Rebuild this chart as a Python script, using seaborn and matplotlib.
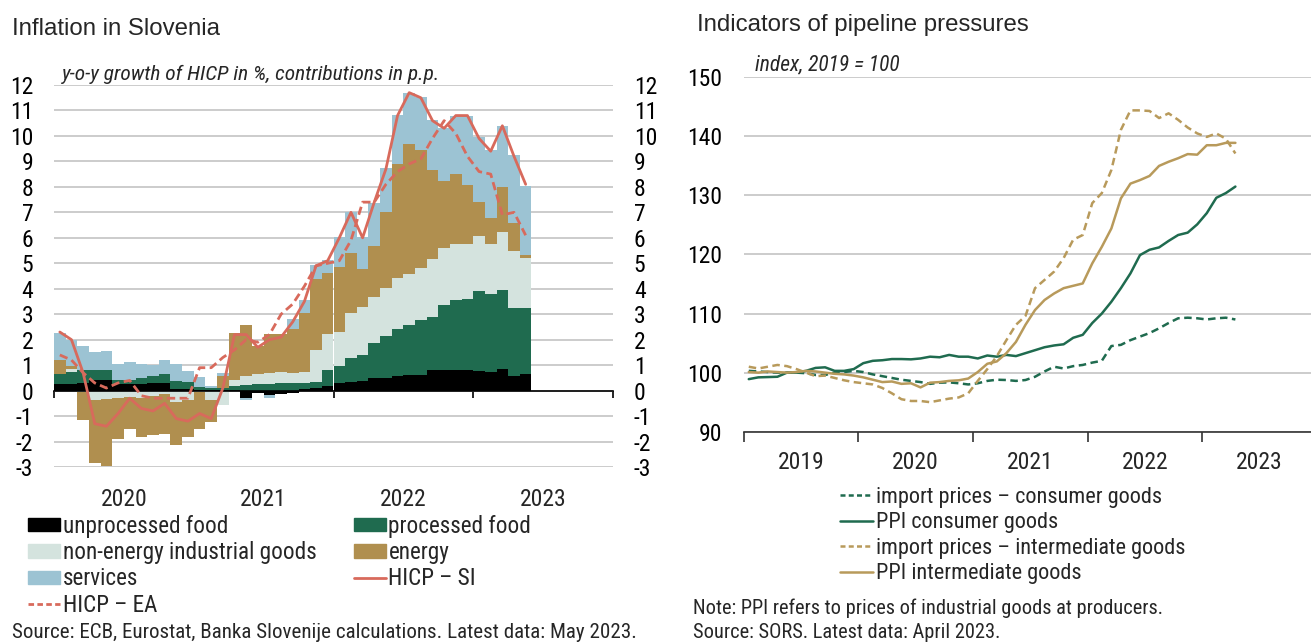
import numpy as np
import matplotlib
matplotlib.use("Agg")
import matplotlib.pyplot as plt
import seaborn as sns
from matplotlib.patches import Patch
from matplotlib.lines import Line2D

sns.set_theme(style="white")
NARROW = ["Roboto Condensed", "Noto Sans Condensed", "Liberation Sans", "DejaVu Sans"]
plt.rcParams["font.family"] = NARROW
plt.rcParams["axes.unicode_minus"] = False

# ----------------------------------------------------------------------
# DATA - left panel: monthly, Jan 2020 .. May 2023 (contributions in p.p.)
# ----------------------------------------------------------------------
unprocessed_food = [0.24, 0.27, 0.30, 0.41, 0.41, 0.25, 0.24, 0.27, 0.30, 0.30, 0.08, 0.08,
                    0.03, 0.02, 0.02, 0.02, -0.31, -0.10, -0.16, -0.14, -0.08, 0.05, 0.10, 0.20,
                    0.28, 0.33, 0.38, 0.50, 0.50, 0.58, 0.60, 0.62, 0.79, 0.80, 0.80, 0.80,
                    0.77, 0.72, 0.85, 0.59, 0.65]
processed_food = [0.40, 0.46, 0.50, 0.41, 0.39, 0.16, 0.19, 0.24, 0.26, 0.34, 0.30, 0.25,
                  0.13, 0.10, 0.08, 0.15, 0.21, 0.27, 0.27, 0.30, 0.30, 0.25, 0.23, 0.61,
                  0.67, 0.94, 1.02, 1.36, 1.65, 1.85, 1.98, 2.14, 2.10, 2.56, 2.76, 2.79,
                  3.16, 3.08, 3.10, 2.67, 2.58]
neig = [0.00, 0.13, -0.05, -0.38, -0.34, -0.29, -0.25, -0.31, -0.20, -0.15, -0.45, -0.37,
        -0.05, -0.35, -0.58, 0.23, 0.37, 0.37, 0.42, 0.43, 0.39, 0.45, 1.27, 1.40,
        1.34, 1.77, 1.87, 1.83, 1.87, 1.98, 1.99, 2.04, 2.29, 2.23, 2.18, 2.16,
        2.13, 1.95, 2.28, 2.22, 1.99]
energy = [0.58, 0.11, -1.10, -2.48, -2.63, -1.62, -1.24, -1.51, -1.55, -1.54, -1.67, -1.44,
          -1.44, -0.88, 0.46, 1.86, 1.98, 1.11, 1.55, 1.51, 1.74, 2.30, 2.78, 2.39,
          2.57, 2.38, 1.51, 2.00, 2.98, 4.48, 5.13, 4.65, 3.48, 2.65, 2.77, 2.33,
          1.36, 1.04, 1.78, 1.09, 0.11]
services = [1.05, 1.00, 0.95, 0.70, 0.76, 0.65, 0.69, 0.55, 0.46, 0.55, 0.65, 0.42,
            0.38, 0.05, 0.15, 0.00, -0.07, 0.00, -0.13, 0.00, 0.39, 0.50, 0.55, 0.53,
            1.19, 1.58, 1.27, 1.67, 1.73, 1.93, 2.00, 2.09, 1.97, 2.06, 2.26, 2.69,
            2.53, 2.66, 2.38, 2.68, 2.71]
hicp_si = [2.3, 2.0, 0.7, -1.3, -1.4, -0.9, -0.3, -0.7, -0.8, -0.5, -1.1, -1.2,
           -0.9, -1.1, 0.1, 2.2, 2.2, 1.7, 2.0, 2.1, 2.7, 3.5, 4.9, 5.1,
           6.0, 7.0, 6.0, 7.4, 8.7, 10.8, 11.7, 11.5, 10.6, 10.3, 10.8, 10.8,
           9.9, 9.4, 10.4, 9.2, 8.1]
hicp_ea = [1.4, 1.2, 0.7, 0.3, 0.1, 0.3, 0.4, -0.2, -0.3, -0.3, -0.3, -0.3,
           0.9, 0.9, 1.3, 1.6, 2.0, 1.9, 2.2, 3.0, 3.4, 4.1, 4.9, 5.0,
           5.1, 5.9, 7.4, 7.4, 8.1, 8.6, 8.9, 9.1, 9.9, 10.6, 10.1, 9.2,
           8.6, 8.5, 6.9, 7.0, 6.1]
left_years = ["2020", "2021", "2022", "2023"]

# ----------------------------------------------------------------------
# DATA - right panel: monthly index, Jan 2019 .. Apr 2023 (2019 = 100)
# ----------------------------------------------------------------------
import_consumer = [100.3, 100.2, 100.1, 100.0, 100.0, 100.0, 99.9, 99.6, 99.6, 100.0, 100.1, 100.3,
                   100.1, 99.7, 99.4, 99.1, 98.8, 98.6, 98.4, 98.1, 98.3, 98.35, 98.2, 98.0,
                   98.2, 98.6, 98.8, 98.75, 98.6, 98.75, 99.3, 100.2, 101.0, 100.7, 101.1, 101.3,
                   101.7, 102.0, 104.5, 104.7, 105.5, 106.1, 106.7, 107.5, 108.4, 109.2, 109.3, 109.2,
                   109.0, 109.2, 109.3, 109.0]
ppi_consumer = [98.9, 99.2, 99.25, 99.3, 100.0, 100.0, 100.3, 100.8, 100.9, 100.3, 100.3, 100.6,
                101.6, 102.0, 102.1, 102.3, 102.3, 102.25, 102.4, 102.7, 102.6, 103.0, 102.7, 102.7,
                102.4, 102.9, 102.7, 103.0, 102.8, 103.3, 103.8, 104.3, 104.6, 104.8, 105.9, 106.4,
                108.4, 110.0, 112.0, 114.3, 116.8, 119.9, 120.8, 121.2, 122.3, 123.3, 123.7, 125.1,
                127.0, 129.6, 130.4, 131.5]
import_intermediate = [101.0, 100.7, 101.0, 101.3, 101.1, 100.6, 100.0, 99.4, 99.5, 99.1, 98.7, 98.4,
                       98.2, 98.0, 97.4, 96.5, 95.5, 95.2, 95.2, 95.0, 95.3, 95.6, 95.8, 96.5,
                       98.6, 100.6, 102.8, 105.5, 108.1, 109.6, 114.3, 115.7, 117.1, 119.4, 122.5, 123.3,
                       128.7, 130.4, 134.3, 141.1, 144.4, 144.4, 144.3, 143.1, 143.9, 142.8, 141.5, 140.5,
                       139.9, 140.5, 139.6, 137.1]
ppi_intermediate = [100.1, 100.0, 100.2, 100.1, 100.0, 100.1, 100.3, 100.2, 100.0, 99.8, 99.7, 99.5,
                    99.2, 98.8, 98.4, 98.5, 98.1, 98.2, 97.5, 98.3, 98.4, 98.6, 98.7, 99.0,
                    100.1, 101.5, 101.9, 103.3, 105.2, 108.1, 110.6, 112.3, 113.4, 114.3, 114.7, 115.1,
                    118.5, 121.3, 124.4, 129.5, 132.0, 132.6, 133.3, 135.0, 135.7, 136.3, 137.0, 136.9,
                    138.5, 138.5, 138.9, 138.9]
right_years = ["2019", "2020", "2021", "2022", "2023"]

# ----------------------------------------------------------------------
# STYLE
# ----------------------------------------------------------------------
BLACK = "#000000"
GREEN = "#1F6B4F"
LIGHT = "#D4E3DE"
TAN = "#B08F4F"
BLUE = "#9CC3D3"
RED = "#D86A5C"
TAN2 = "#B89A5B"
GRID = "#C3C3C3"

W, H = 1311, 643
fig = plt.figure(figsize=(W / 100, H / 100), dpi=100)


def rect(x0, y0, x1, y1):
    # pixel box (top-left origin) -> figure fraction
    return [x0 / W, 1 - y1 / H, (x1 - x0) / W, (y1 - y0) / H]


def year_labels(ax, labels, dy):
    for k, lab in enumerate(labels):
        ax.annotate(lab, xy=(6 + 12 * k, 0), xycoords=("data", "axes fraction"),
                    xytext=(0, -dy), textcoords="offset pixels",
                    ha="center", va="center", fontsize=17)


# ----------------------------------------------------------------------
# LEFT: Inflation in Slovenia
# ----------------------------------------------------------------------
ax1 = fig.add_axes(rect(54, 85, 613, 467))
n = len(hicp_si)
x = np.arange(n) + 0.5

components = [unprocessed_food, processed_food, neig, energy, services]
colors = [BLACK, GREEN, LIGHT, TAN, BLUE]
pos = np.zeros(n)
neg = np.zeros(n)
for vals, col in zip(components, colors):
    v = np.asarray(vals)
    ax1.bar(x, v, width=1.0, bottom=np.where(v >= 0, pos, neg), color=col,
            linewidth=0, zorder=2)
    pos += np.clip(v, 0, None)
    neg += np.clip(v, None, 0)

sns.lineplot(x=x, y=hicp_si, ax=ax1, color=RED, lw=2.0, zorder=3)
sns.lineplot(x=x, y=hicp_ea, ax=ax1, color=RED, lw=2.0, linestyle=(0, (3, 1.6)), zorder=3)

ax1.set_xlim(0, 48)
ax1.set_ylim(-3, 12)
ax1.set_yticks(range(-3, 13))
ax1.yaxis.grid(True, color=GRID, lw=1.2)
ax1.set_axisbelow(True)
for s in ["left", "right", "top"]:
    ax1.spines[s].set_visible(False)
ax1.spines["bottom"].set_position(("data", 0))
ax1.spines["bottom"].set_color(BLACK)
ax1.spines["bottom"].set_linewidth(1.2)
ax1.set_xticks([0, 12, 24, 36, 48])
ax1.tick_params(axis="x", length=5, width=1.2, color=BLACK, direction="out",
                labelbottom=False, bottom=True)
ax1.tick_params(axis="y", length=0, labelleft=True, labelright=True, pad=15,
                labelsize=17, colors=BLACK)
ax1.set_xlabel("")
ax1.set_ylabel("")
year_labels(ax1, left_years, 32)

fig.text(12 / W, 1 - 35 / H, "Inflation in Slovenia", fontsize=17.3,
         family=["Liberation Sans", "DejaVu Sans"], va="baseline")
fig.text(62 / W, 1 - 80 / H, "y-o-y growth of HICP in %, contributions in p.p.",
         fontsize=15.4, style="italic", va="baseline")

left_handles = [
    Patch(color=BLACK, label="unprocessed food"),
    Patch(color=LIGHT, label="non-energy industrial goods"),
    Patch(color=BLUE, label="services"),
    Line2D([], [], color=RED, lw=2, ls=(0, (2, 1.2)), label="HICP – EA"),
    Patch(color=GREEN, label="processed food"),
    Patch(color=TAN, label="energy"),
    Line2D([], [], color=RED, lw=2, label="HICP – SI"),
]
fig.legend(handles=left_handles, loc="upper left", bbox_to_anchor=(28 / W, 1 - 515 / H),
           ncol=2, frameon=False, fontsize=16.7, handlelength=1.4, handleheight=0.5,
           handletextpad=0.1, labelspacing=0.14, columnspacing=1.6,
           borderpad=0, borderaxespad=0)

fig.text(12 / W, 1 - 638 / H,
         "Source: ECB, Eurostat, Banka Slovenije calculations. Latest data: May 2023.",
         fontsize=15.1, va="baseline")

# ----------------------------------------------------------------------
# RIGHT: Indicators of pipeline pressures
# ----------------------------------------------------------------------
ax2 = fig.add_axes(rect(744, 77.3, 1316.5, 431.7))
m = np.arange(len(ppi_consumer)) + 0.5
sns.lineplot(x=m, y=import_consumer, ax=ax2, color=GREEN, lw=1.8, linestyle=(0, (3, 1.8)))
sns.lineplot(x=m, y=ppi_consumer, ax=ax2, color=GREEN, lw=1.8)
sns.lineplot(x=m, y=import_intermediate, ax=ax2, color=TAN2, lw=1.8, linestyle=(0, (3, 1.8)))
sns.lineplot(x=m, y=ppi_intermediate, ax=ax2, color=TAN2, lw=1.8)

ax2.set_xlim(0, 60)
ax2.set_ylim(90, 150)
ax2.set_yticks(range(90, 151, 10))
ax2.yaxis.grid(True, color=GRID, lw=1.2)
ax2.set_axisbelow(True)
for s in ["left", "right", "top"]:
    ax2.spines[s].set_visible(False)
ax2.spines["bottom"].set_color("#333333")
ax2.spines["bottom"].set_linewidth(1.2)
ax2.set_xticks([0, 12, 24, 36, 48, 60])
ax2.tick_params(axis="x", length=7, width=1.2, color="#333333", direction="out",
                labelbottom=False, bottom=True)
ax2.tick_params(axis="y", length=0, pad=16, labelsize=17, colors=BLACK)
ax2.set_xlabel("")
ax2.set_ylabel("")
year_labels(ax2, right_years, 31)

fig.text(697 / W, 1 - 31 / H, "Indicators of pipeline pressures", fontsize=17.3,
         family=["Liberation Sans", "DejaVu Sans"], va="baseline")
fig.text(755 / W, 1 - 70 / H, "index, 2019 = 100", fontsize=15.5, style="italic",
         va="baseline")

right_handles = [
    Line2D([], [], color=GREEN, lw=1.8, ls=(0, (2, 1.3)), label="import prices – consumer goods"),
    Line2D([], [], color=GREEN, lw=1.8, label="PPI consumer goods"),
    Line2D([], [], color=TAN2, lw=1.8, ls=(0, (2, 1.3)), label="import prices – intermediate goods"),
    Line2D([], [], color=TAN2, lw=1.8, label="PPI intermediate goods"),
]
fig.legend(handles=right_handles, loc="upper left", bbox_to_anchor=(840 / W, 1 - 487 / H),
           ncol=1, frameon=False, fontsize=16, handlelength=1.5,
           handletextpad=0.1, labelspacing=0.2, borderpad=0, borderaxespad=0)

fig.text(693 / W, 1 - 614 / H,
         "Note: PPI refers to prices of industrial goods at producers.", fontsize=14.7,
         va="baseline")
fig.text(693 / W, 1 - 638 / H, "Source: SORS. Latest data: April 2023.", fontsize=14.7,
         va="baseline")

fig.savefig("out.png", dpi=100)
